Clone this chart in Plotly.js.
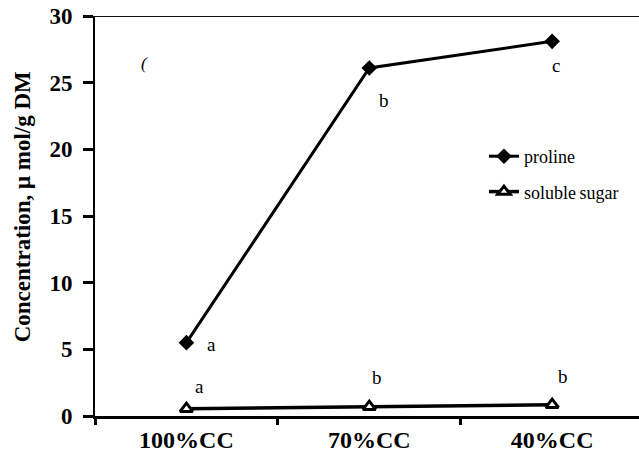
<!DOCTYPE html>
<html>
<head>
<meta charset="utf-8">
<script src="https://cdn.plot.ly/plotly-3.0.1.min.js"></script>
<style>html,body{margin:0;padding:0;background:#fff;}#chart{width:639px;height:467px;}</style>
</head>
<body>
<div id="chart"></div>
<script>
const categories = ["100%CC", "70%CC", "40%CC"];
const proline = [5.5, 26.1, 28.1];
const solubleSugar = [0.55, 0.7, 0.85];
const prolineLetters = ["a", "b", "c"];
const sugarLetters = ["a", "b", "b"];
const yTicks = [0, 5, 10, 15, 20, 25, 30];
const yTitle = "Concentration, \u03bc mol/g DM";

const serif = "Liberation Serif";

const traces = [
  {
    x: categories, y: proline, name: "proline", legendgroup: "p", type: "scatter", mode: "lines+markers",
    line: {color: "#000", width: 3},
    marker: {symbol: "diamond", size: 12, color: "#000"}
  },
  {
    x: categories, y: solubleSugar, name: "soluble\u2009sugar", legendgroup: "s", type: "scatter", mode: "lines+markers",
    line: {color: "#000", width: 3.5},
    marker: {symbol: "triangle-up", size: 11, color: "#fff", line: {color: "#000", width: 3}}
  }
];

const annotations = [];
const prolineOffsets = [[25, -2], [15, -32], [4, -24]];
const sugarOffsets = [[13, 22], [8, 29], [11, 28]];
categories.forEach((c, i) => {
  annotations.push({x: c, y: proline[i], xref: "x", yref: "y", text: prolineLetters[i], showarrow: false,
    xshift: prolineOffsets[i][0], yshift: prolineOffsets[i][1], font: {family: serif, size: 19, color: "#000"}});
  annotations.push({x: c, y: solubleSugar[i], xref: "x", yref: "y", text: sugarLetters[i], showarrow: false,
    xshift: sugarOffsets[i][0], yshift: sugarOffsets[i][1], font: {family: serif, size: 19, color: "#000"}});
});
annotations.push({x: 0.08, y: 0.91, xref: "paper", yref: "paper", text: "<i>(</i>", showarrow: false,
  font: {family: serif, size: 17, color: "#000"}});
annotations.push({x: -0.134, y: 0.522, xref: "paper", yref: "paper", text: "<b>" + yTitle + "</b>",
  textangle: -90, showarrow: false, xanchor: "center", yanchor: "middle",
  font: {family: serif, size: 23, color: "#000"}});

const layout = {
  width: 639, height: 467,
  margin: {l: 95, r: 0, t: 16, b: 51},
  paper_bgcolor: "#fff", plot_bgcolor: "#fff",
  showlegend: true,
  legend: {x: 0.715, y: 0.695, xanchor: "left", yanchor: "top", bgcolor: "rgba(0,0,0,0)",
    font: {family: serif, size: 18, color: "#000"}, tracegroupgap: 9, itemwidth: 30},
  xaxis: {
    type: "category", range: [-0.5, 2.475], tickson: "boundaries",
    showline: true, linecolor: "#000", linewidth: 3, showgrid: false, zeroline: false,
    ticks: "outside", ticklen: 6, tickwidth: 3, tickcolor: "#000",
    tickfont: {family: serif, size: 24, color: "#000", weight: "bold"}
  },
  yaxis: {
    range: [0, 30], tickvals: yTicks, showline: true, linecolor: "#000", linewidth: 2,
    showgrid: false, zeroline: false,
    ticks: "outside", ticklen: 10, tickwidth: 3, tickcolor: "#000", ticklabelstandoff: 6,
    tickfont: {family: serif, size: 23, color: "#000", weight: "bold"}
  },
  shapes: [
    {type: "line", xref: "paper", yref: "y", x0: -0.02, x1: 1, y0: 30, y1: 30,
      line: {color: "#111", width: 2}}
  ],
  annotations: annotations
};

Plotly.newPlot("chart", traces, layout, {displayModeBar: false, staticPlot: true});
</script>
</body>
</html>
